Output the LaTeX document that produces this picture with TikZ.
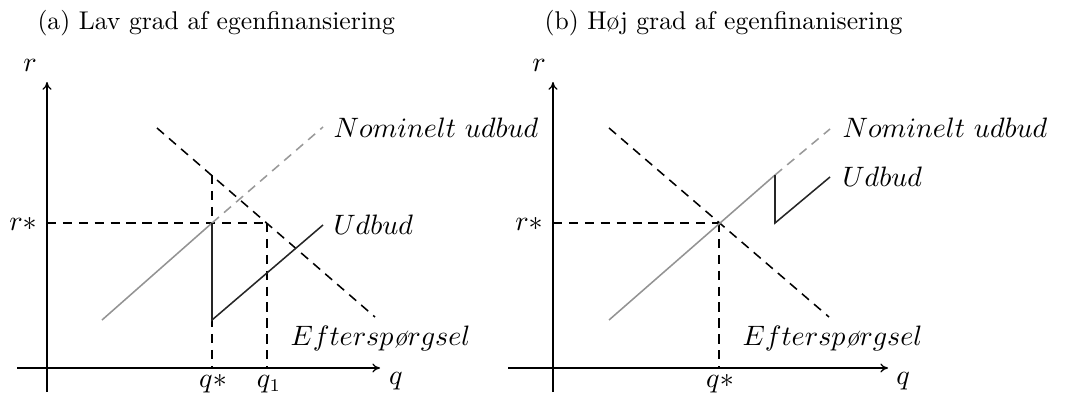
\documentclass[tikz,border=0pt]{standalone}
\usepackage{fontspec}
\usetikzlibrary{arrows.meta}
\begin{document}
\begin{tikzpicture}[x=0.39pt,y=-0.39pt,
  axis/.style={line width=0.5pt,-{To[length=3pt,width=3.5pt]}},
  guide/.style={line width=0.6pt,dash pattern=on 3.6pt off 2.6pt,black},
  nomline/.style={line width=0.6pt,dash pattern=on 3.6pt off 2.6pt,gray!80},
  supgray/.style={line width=0.6pt,gray!85},
  supblack/.style={line width=0.6pt,black!85},
  lbl/.style={inner sep=0pt,font=\fontsize{10.5}{12}\selectfont},
  ttl/.style={inner sep=0pt,font=\fontsize{10}{12}\selectfont}]
\useasboundingbox (0,0) rectangle (1067,392);

% ---------- panel (a) ----------
\node[ttl,anchor=west] (ta) at (37,23) {(a) Lav grad af egenfinansiering};
\coordinate (aO) at (47,368);
\coordinate (ayb) at (47,392);
\coordinate (ayt) at (47,82);
\coordinate (axl) at (17,368);
\coordinate (axr) at (380,368);
\draw[axis] (ayb) -- (ayt);
\draw[axis] (axl) -- (axr);
\node[lbl] (ar) at (30,65) {$r$};
\node[lbl] (aq) at (396,381) {$q$};
\node[lbl] (aqs) at (213,384) {$q*$};
\node[lbl] (aq1) at (269,384) {$q_1$};
\node[lbl] (ars) at (23,224) {$r*$};

\coordinate (aDt) at (157,128);
\coordinate (aDb) at (375,317);
\coordinate (aE) at (212,223);
\coordinate (aEt) at (212,175);
\coordinate (aEb) at (212,368);
\coordinate (aRl) at (47,223);
\coordinate (aR1) at (267,223);
\coordinate (aQ1) at (267,368);
\coordinate (aNt) at (323,127);
\coordinate (aSs) at (102,320);
\coordinate (aJb) at (212,320);
\coordinate (aUt) at (323,225);

\draw[guide] (aRl) -- (aR1);
\draw[guide] (aEt) -- (aEb);
\draw[guide] (aR1) -- (aQ1);
\draw[guide] (aDt) -- (aDb);
\draw[nomline] (aE) -- (aNt);
\draw[supgray] (aSs) -- (aE);
\draw[supblack] (aE) -- (aJb) -- (aUt);

\node[lbl,anchor=west] (anom) at (333,128) {$Nominelt\ udbud$};
\node[lbl,anchor=west] (audb) at (333,225) {$Udbud$};
\node[lbl,anchor=west] (aeft) at (290,338) {$Efters p\mbox{\itshape ø}rgsel$};

% ---------- panel (b) ----------
\node[ttl,anchor=west] (tb) at (544,23) {(b) Høj grad af egenfinanisering};
\coordinate (bO) at (553,368);
\coordinate (byb) at (553,392);
\coordinate (byt) at (553,82);
\coordinate (bxl) at (508,368);
\coordinate (bxr) at (888,368);
\draw[axis] (byb) -- (byt);
\draw[axis] (bxl) -- (bxr);
\node[lbl] (br) at (539,65) {$r$};
\node[lbl] (bq) at (903,381) {$q$};
\node[lbl] (bqs) at (720,384) {$q*$};
\node[lbl] (brs) at (529,224) {$r*$};

\coordinate (bDt) at (609,128);
\coordinate (bDb) at (829,317);
\coordinate (bE) at (719,223);
\coordinate (bEb) at (719,368);
\coordinate (bRl) at (553,223);
\coordinate (bSs) at (609,320);
\coordinate (bK) at (775,175);
\coordinate (bKb) at (775,223);
\coordinate (bNt) at (830,129);
\coordinate (bUt) at (830,177);

\draw[guide] (bRl) -- (bE);
\draw[guide] (bE) -- (bEb);
\draw[guide] (bDt) -- (bDb);
\draw[nomline] (bK) -- (bNt);
\draw[supgray] (bSs) -- (bK);
\draw[supblack] (bK) -- (bKb) -- (bUt);

\node[lbl,anchor=west] (bnom) at (842,128) {$Nominelt\ udbud$};
\node[lbl,anchor=west] (budb) at (842,177) {$Udbud$};
\node[lbl,anchor=west] (beft) at (742,338) {$Efters p\mbox{\itshape ø}rgsel$};
\end{tikzpicture}
\end{document}
